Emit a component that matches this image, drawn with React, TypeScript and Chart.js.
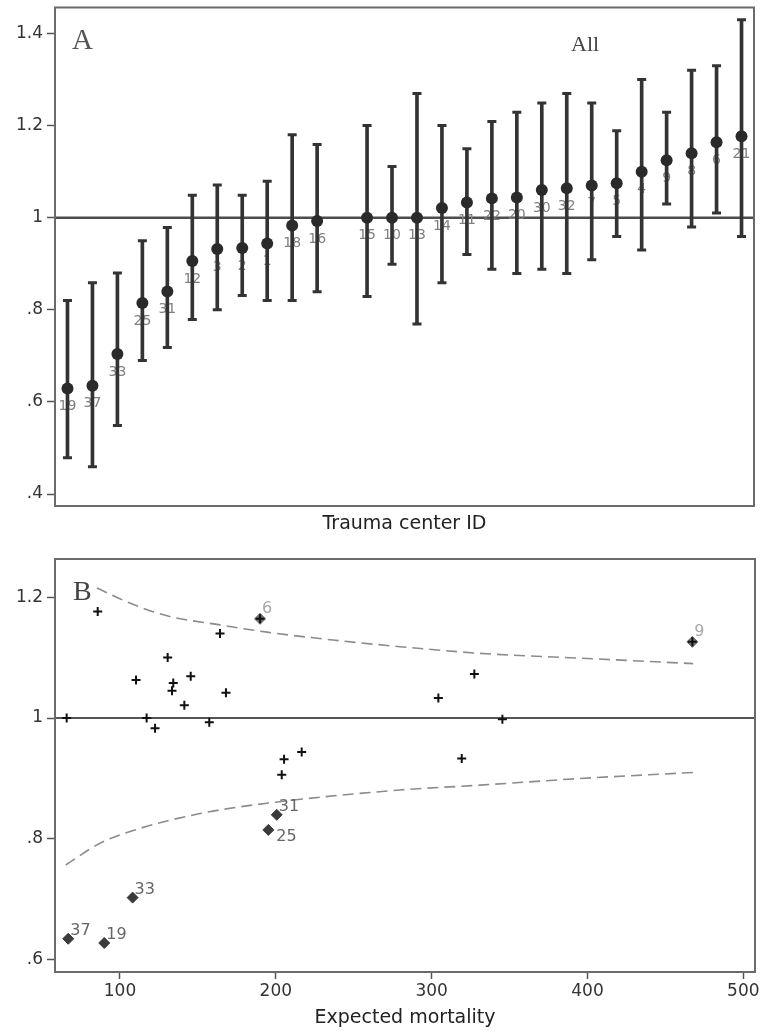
import React, { useEffect, useRef } from "react";
import { Chart, registerables } from "chart.js";

Chart.register(...registerables);

const SANS = '"DejaVu Sans", "Liberation Sans", sans-serif';
const SERIF = '"Liberation Serif", "DejaVu Serif", serif';

// ---------- Panel A: ratio with 95% CI per trauma center (sorted) ----------
const centerIds = ["19", "37", "33", "25", "31", "12", "3", "2", "1", "18", "16", "", "15", "10", "13", "14", "11", "22", "20", "30", "32", "7", "5", "4", "9", "8", "6", "21"];
const ratioA = [0.629, 0.635, 0.704, 0.815, 0.84, 0.906, 0.932, 0.934, 0.944, 0.983, 0.993, null, 1.0, 1.0, 1.0, 1.021, 1.033, 1.042, 1.044, 1.06, 1.064, 1.07, 1.075, 1.1, 1.125, 1.14, 1.164, 1.177];
const ciLowA = [0.479, 0.459, 0.549, 0.69, 0.718, 0.779, 0.8, 0.831, 0.82, 0.82, 0.839, null, 0.829, 0.899, 0.769, 0.859, 0.92, 0.888, 0.879, 0.888, 0.879, 0.909, 0.959, 0.93, 1.03, 0.98, 1.01, 0.959];
const ciHighA = [0.82, 0.859, 0.88, 0.95, 0.979, 1.049, 1.071, 1.049, 1.079, 1.18, 1.159, null, 1.2, 1.111, 1.27, 1.2, 1.15, 1.209, 1.229, 1.249, 1.27, 1.249, 1.189, 1.3, 1.229, 1.32, 1.33, 1.43];

// ---------- Panel B: funnel plot ----------
const plusX = [65.8, 85.7, 110.3, 130.6, 134.2, 133.4, 145.4, 141.3, 117.1, 122.5, 157.3, 164.2, 168.0, 205.3, 203.8, 216.6, 304.3, 327.4, 345.4, 319.3, 189.9, 467.3];
const plusY = [1.0, 1.176, 1.063, 1.1, 1.058, 1.045, 1.069, 1.021, 1.0, 0.983, 0.993, 1.14, 1.042, 0.932, 0.906, 0.944, 1.033, 1.073, 0.998, 0.933, 1.164, 1.126];
const highIds = ["6", "9"];
const highX = [189.9, 467.3];
const highY = [1.164, 1.126];
const lowIds = ["37", "19", "33", "25", "31"];
const lowX = [66.8, 89.9, 108.1, 195.2, 200.6];
const lowY = [0.635, 0.628, 0.703, 0.815, 0.84];
const upperX = [85.2, 108.3, 130.2, 164.2, 194.4, 236.7, 279.7, 331.1, 395.3, 467.8];
const upperY = [1.215, 1.188, 1.169, 1.154, 1.142, 1.129, 1.118, 1.107, 1.099, 1.09];
const lowerX = [65.2, 87.2, 108.5, 151.3, 194.2, 279.7, 331.1, 395.3, 467.8];
const lowerY = [0.757, 0.793, 0.814, 0.842, 0.859, 0.881, 0.889, 0.9, 0.91];
const labelsBelowRight = ["25"];

const fmtTick = (v: number) => {
  const r = Math.round(v * 10) / 10;
  const s = String(r);
  return s.startsWith("0.") ? s.slice(1) : s;
};

const framePlugin = {
  id: "frame",
  afterDatasetsDraw(chart: any) {
    const { ctx, chartArea: a } = chart;
    ctx.save();
    ctx.strokeStyle = "#6b6b6b";
    ctx.lineWidth = 2;
    ctx.strokeRect(a.left, a.top, a.right - a.left, a.bottom - a.top);
    ctx.restore();
  },
};

const refLinePlugin = (color: string, width: number) => ({
  id: "refLine",
  beforeDatasetsDraw(chart: any) {
    const { ctx, chartArea: a } = chart;
    const y = chart.scales.y.getPixelForValue(1);
    ctx.save();
    ctx.strokeStyle = color;
    ctx.lineWidth = width;
    ctx.beginPath();
    ctx.moveTo(a.left, y);
    ctx.lineTo(a.right, y);
    ctx.stroke();
    ctx.restore();
  },
});

const yAxis = (min: number, max: number) => ({
  type: "linear" as const,
  min,
  max,
  beginAtZero: false,
  afterFit(scale: any) {
    scale.width = 55;
    scale.paddingTop = 0;
    scale.paddingBottom = 0;
  },
  border: { display: false },
  grid: { drawOnChartArea: false, drawTicks: true, tickLength: 8, tickColor: "#555", tickWidth: 1.5 },
  ticks: {
    stepSize: 0.2,
    includeBounds: false,
    padding: 4,
    color: "#333",
    font: { family: SANS, size: 17 },
    callback: (v: any) => fmtTick(Number(v)),
  },
});

function PanelA() {
  const ref = useRef<HTMLCanvasElement>(null);
  useEffect(() => {
    const labelPlugin = {
      id: "idLabels",
      beforeDatasetsDraw(chart: any) {
        const { ctx } = chart;
        const meta = chart.getDatasetMeta(0);
        ctx.save();
        ctx.font = `14px ${SANS}`;
        ctx.fillStyle = "#808080";
        ctx.textAlign = "center";
        ctx.textBaseline = "middle";
        meta.data.forEach((el: any, i: number) => {
          if (ratioA[i] == null) return;
          ctx.fillText(centerIds[i], el.x, el.y + 18);
        });
        ctx.restore();
      },
    };
    const textPlugin = {
      id: "panelText",
      afterDraw(chart: any) {
        const { ctx, chartArea: a } = chart;
        ctx.save();
        ctx.fillStyle = "#555";
        ctx.textBaseline = "alphabetic";
        ctx.font = `29px ${SERIF}`;
        ctx.fillText("A", a.left + 17, a.top + 41);
        ctx.fillStyle = "#444";
        ctx.font = `22px ${SERIF}`;
        ctx.fillText("All", a.left + 516, a.top + 43);
        ctx.restore();
      },
    };
    const chart = new Chart(ref.current!, {
      type: "bar",
      data: {
        labels: centerIds,
        datasets: [
          {
            type: "line",
            data: ratioA,
            showLine: false,
            pointRadius: 6,
            pointHoverRadius: 6,
            pointBackgroundColor: "#2a2a2a",
            pointBorderWidth: 0,
            borderColor: "#2a2a2a",
          },
          {
            type: "line",
            data: ciHighA,
            showLine: false,
            pointStyle: "line",
            pointRadius: 4.5,
            pointBorderWidth: 3,
            pointBorderColor: "#333",
            borderColor: "#333",
          },
          {
            type: "line",
            data: ciLowA,
            showLine: false,
            pointStyle: "line",
            pointRadius: 4.5,
            pointBorderWidth: 3,
            pointBorderColor: "#333",
            borderColor: "#333",
          },
          {
            type: "bar",
            data: ciLowA.map((lo, i) => (lo == null ? null : [lo, ciHighA[i] as number])) as any,
            barThickness: 3,
            backgroundColor: "#333",
            borderWidth: 0,
          },
        ] as any,
      },
      options: {
        responsive: false,
        animation: false,
        devicePixelRatio: 1,
        layout: { padding: { left: 0, right: 10, top: 7, bottom: 0 } },
        plugins: { legend: { display: false }, tooltip: { enabled: false } },
        scales: {
          x: {
            type: "category",
            offset: true,
            afterFit(scale: any) {
              scale.height = 29;
              scale.paddingLeft = 0;
              scale.paddingRight = 0;
            },
            grid: { display: false },
            border: { display: false },
            ticks: { display: false },
            title: {
              display: true,
              text: "Trauma center ID",
              color: "#222",
              font: { family: SANS, size: 19 },
              padding: { top: 0, bottom: 0 },
            },
          },
          y: yAxis(0.374, 1.4565),
        } as any,
      },
      plugins: [refLinePlugin("#4d4d4d", 2.5), labelPlugin, framePlugin, textPlugin],
    });
    return () => chart.destroy();
  }, []);
  return <canvas ref={ref} width={764} height={535} style={{ display: "block", position: "absolute", left: 0, top: 0 }} />;
}

function PanelB() {
  const ref = useRef<HTMLCanvasElement>(null);
  useEffect(() => {
    const labelPlugin = {
      id: "outlierLabels",
      afterDatasetsDraw(chart: any) {
        const { ctx } = chart;
        ctx.save();
        ctx.font = `16px ${SANS}`;
        ctx.textAlign = "left";
        ctx.textBaseline = "middle";
        const high = chart.getDatasetMeta(1);
        ctx.fillStyle = "#a8a8a8";
        high.data.forEach((el: any, i: number) => {
          ctx.fillText(highIds[i], el.x + 2, el.y - 10);
        });
        const low = chart.getDatasetMeta(2);
        ctx.fillStyle = "#666";
        low.data.forEach((el: any, i: number) => {
          const id = lowIds[i];
          if (labelsBelowRight.includes(id)) ctx.fillText(id, el.x + 8, el.y + 7);
          else ctx.fillText(id, el.x + 2, el.y - 8);
        });
        ctx.restore();
      },
    };
    const textPlugin = {
      id: "panelTextB",
      afterDraw(chart: any) {
        const { ctx, chartArea: a } = chart;
        ctx.save();
        ctx.fillStyle = "#444";
        ctx.textBaseline = "alphabetic";
        ctx.font = `28px ${SERIF}`;
        ctx.fillText("B", a.left + 18, a.top + 41);
        ctx.restore();
      },
    };
    const pts = (xs: number[], ys: number[]) => xs.map((x, i) => ({ x, y: ys[i] }));
    const chart = new Chart(ref.current!, {
      type: "scatter",
      data: {
        datasets: [
          {
            data: pts(plusX, plusY),
            pointStyle: "cross",
            pointRadius: 4.5,
            pointHoverRadius: 4.5,
            pointBorderWidth: 2,
            pointBorderColor: "#111",
            borderColor: "#111",
          },
          {
            data: pts(highX, highY),
            pointStyle: "rectRot",
            pointRadius: 5.5,
            pointHoverRadius: 5.5,
            pointBackgroundColor: "#6e6e6e",
            pointBorderColor: "#6e6e6e",
            pointBorderWidth: 1,
          },
          {
            data: pts(lowX, lowY),
            pointStyle: "rectRot",
            pointRadius: 5.5,
            pointHoverRadius: 5.5,
            pointBackgroundColor: "#3b3b3b",
            pointBorderColor: "#3b3b3b",
            pointBorderWidth: 1,
          },
          {
            data: pts(upperX, upperY),
            showLine: true,
            pointRadius: 0,
            borderColor: "#8c8c8c",
            borderWidth: 1.6,
            borderDash: [11, 6],
            cubicInterpolationMode: "monotone",
          },
          {
            data: pts(lowerX, lowerY),
            showLine: true,
            pointRadius: 0,
            borderColor: "#8c8c8c",
            borderWidth: 1.6,
            borderDash: [11, 6],
            cubicInterpolationMode: "monotone",
          },
        ] as any,
      },
      options: {
        responsive: false,
        animation: false,
        devicePixelRatio: 1,
        layout: { padding: { left: 0, right: 9, top: 24, bottom: 0 } },
        plugins: { legend: { display: false }, tooltip: { enabled: false } },
        scales: {
          x: {
            type: "linear",
            min: 58.3,
            max: 507.5,
            afterFit(scale: any) {
              scale.height = 62;
              scale.paddingLeft = 0;
              scale.paddingRight = 0;
            },
            border: { display: false },
            grid: { drawOnChartArea: false, drawTicks: true, tickLength: 7, tickColor: "#555", tickWidth: 1.5 },
            ticks: {
              stepSize: 100,
              includeBounds: false,
              padding: 2,
              color: "#333",
              maxRotation: 0,
              font: { family: SANS, size: 17 },
            },
            title: {
              display: true,
              text: "Expected mortality",
              color: "#222",
              font: { family: SANS, size: 19 },
              padding: { top: 0, bottom: 4.6 },
            },
          },
          y: yAxis(0.58, 1.263),
        } as any,
      },
      plugins: [refLinePlugin("#555", 2), framePlugin, labelPlugin, textPlugin],
    });
    return () => chart.destroy();
  }, []);
  return <canvas ref={ref} width={764} height={499} style={{ display: "block", position: "absolute", left: 0, top: 535 }} />;
}

export default function App() {
  return (
    <div style={{ position: "absolute", left: 0, top: 0, width: 764, height: 1034, background: "#fff" }}>
      <PanelA />
      <PanelB />
    </div>
  );
}
